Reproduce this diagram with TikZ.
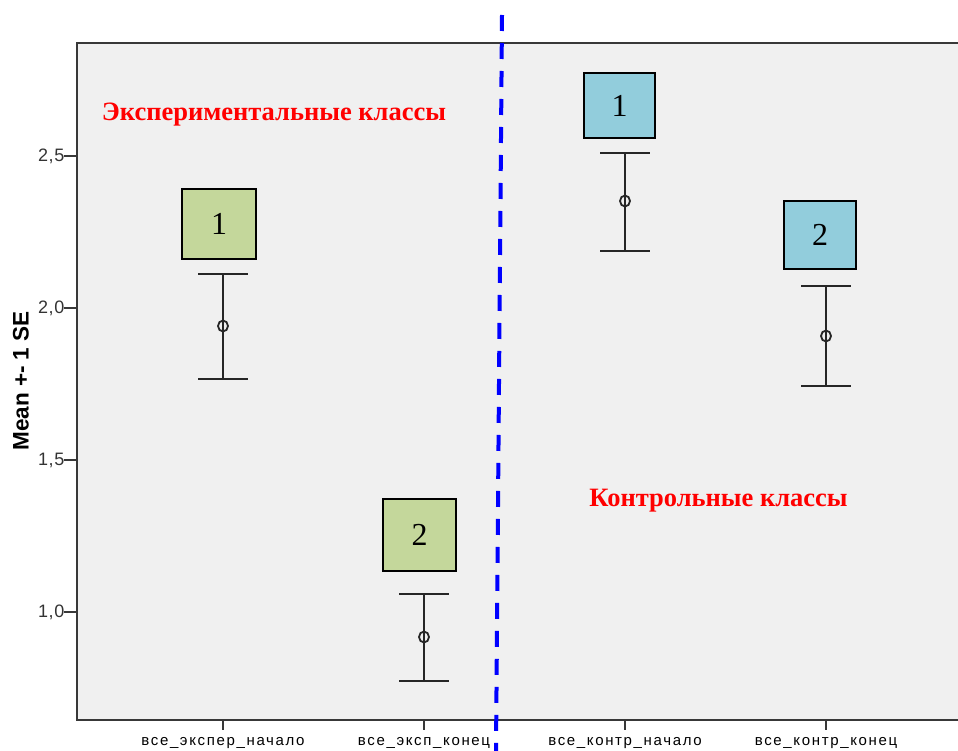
\documentclass[tikz,border=0pt]{standalone}
\usepackage{fontspec}
\usetikzlibrary{shapes.geometric}
\setmainfont{Liberation Serif}
\setsansfont{Liberation Sans}
\definecolor{plotbg}{HTML}{F0F0F0}
\definecolor{framec}{HTML}{383838}
\definecolor{expgreen}{HTML}{C4D79B}
\definecolor{ctrblue}{HTML}{92CDDC}
\definecolor{barc}{HTML}{262626}
\begin{document}
\begin{tikzpicture}[x=1pt,y=-1pt,
  numbox/.style={draw=black,line width=2pt,minimum width=#1,inner sep=0pt,font=\fontsize{32}{32}\selectfont},
  ticklab/.style={font=\sffamily\fontsize{18}{18}\selectfont\addfontfeatures{LetterSpace=3},text=black!80},
  catlab/.style={font=\sffamily\fontsize{15}{15}\selectfont\addfontfeatures{LetterSpace=11},text=black},
  grouplab/.style={font=\bfseries\fontsize{26.5}{26.5}\selectfont,text=red},
  ebar/.style={draw=barc,line width=2.5pt},
  meanpt/.style={ellipse,draw=barc,line width=1.8pt,minimum width=10pt,minimum height=11pt,inner sep=0pt}
]
\useasboundingbox (0,0) rectangle (958,751);
% plot area
\fill[plotbg] (77,43) rectangle (960,720);
\draw[framec,line width=2pt] (960,43) -- (77,43) -- (77,720) -- (960,720);
% y ticks
\foreach \v/\lab/\nm in {156/{2,5}/ya, 308/{2,0}/yb, 460/{1,5}/yc, 612/{1,0}/yd}{
  \draw[framec,line width=1.5pt] (64,\v) -- (77,\v);
  \node[ticklab,anchor=east,inner sep=0pt] (\nm) at (64.5,\v) {\lab};
}
\node[font=\sffamily\bfseries\fontsize{22.5}{22.5}\selectfont,rotate=90] (ylab) at (21,381) {Mean +- 1 SE};
% x ticks
\foreach \x/\lab/\nm in {223/все\_экспер\_начало/xa, 424/все\_эксп\_конец/xb, 625/все\_контр\_начало/xc, 826/все\_контр\_конец/xd}{
  \draw[framec,line width=1.5pt] (\x,720) -- (\x,730);
  \node[catlab] (\nm) at (\x,743) {\lab};
}
% error bars
\foreach \x/\t/\m/\b/\nm in {223/274/326/379/ea, 424/594/637/681/eb, 625/153/201/251/ec, 826/286/336/386/ed}{
  \coordinate (\nm t) at (\x,\t);
  \coordinate (\nm b) at (\x,\b);
  \draw[ebar] (\nm t) -- (\nm b);
  \draw[ebar] ([xshift=-25pt]\nm t) -- ([xshift=25pt]\nm t);
  \draw[ebar] ([xshift=-25pt]\nm b) -- ([xshift=25pt]\nm b);
  \node[meanpt] (\nm m) at (\x,\m) {};
}
% number boxes
\node[numbox=74pt,minimum height=70pt,fill=expgreen] (b1) at (219,224) {1};
\node[numbox=73pt,minimum height=72pt,fill=expgreen] (b2) at (419.5,535) {2};
\node[numbox=71pt,minimum height=65pt,fill=ctrblue] (b3) at (619.5,105.5) {1};
\node[numbox=72pt,minimum height=68pt,fill=ctrblue] (b4) at (820,235) {2};
% group labels
\node[grouplab] (g1) at (274,115) {Экспериментальные классы};
\node[grouplab] (g2) at (718.5,501) {Контрольные классы};
% divider
\coordinate (dtop) at (502,15);
\coordinate (dbot) at (496,751);
\draw[blue,line width=4pt,dash pattern=on 16pt off 12pt] (dtop) -- (dbot);
\end{tikzpicture}
\end{document}
